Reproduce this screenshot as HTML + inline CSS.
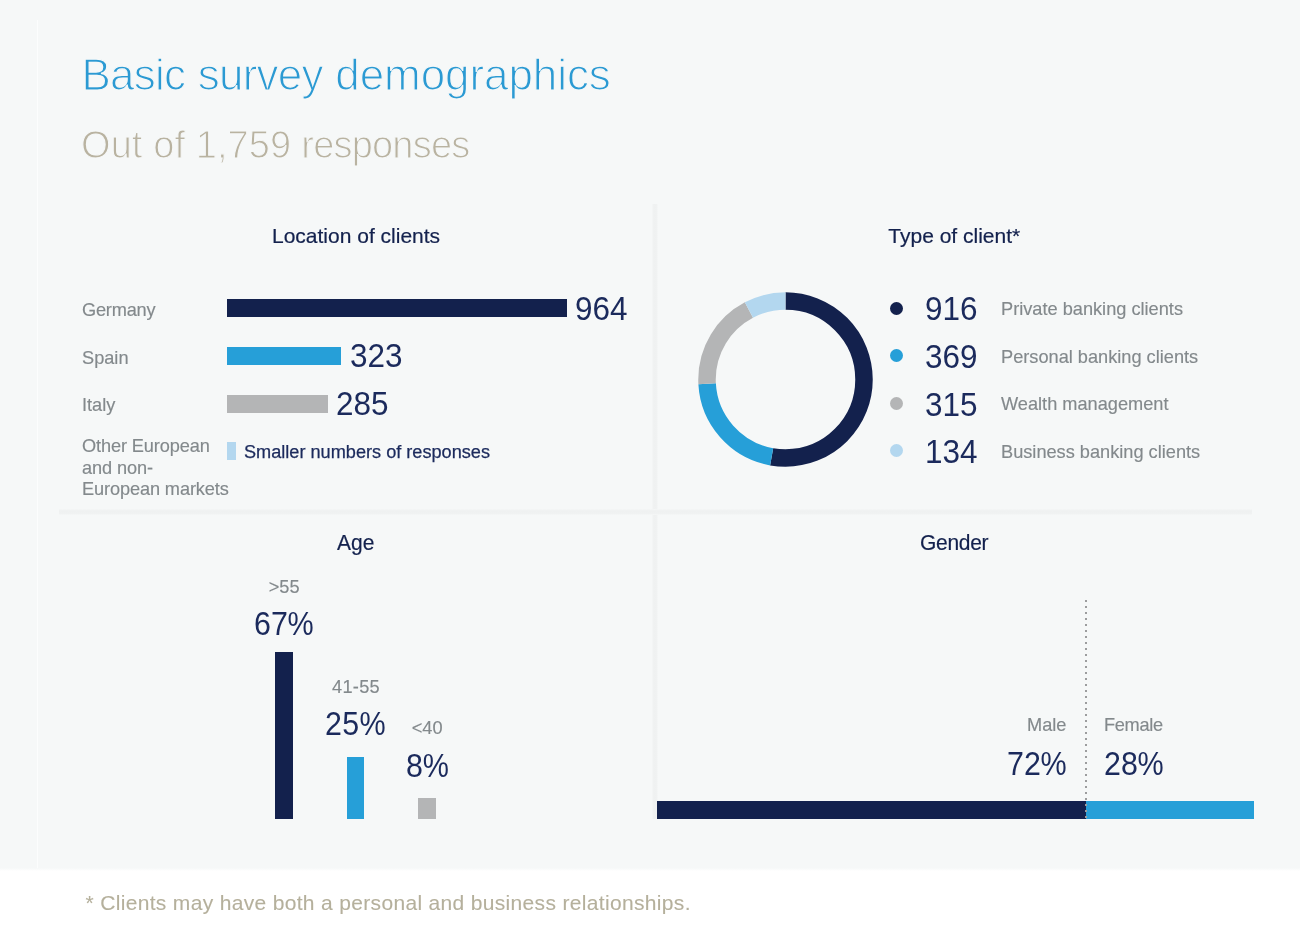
<!DOCTYPE html>
<html lang="en">
<head>
<meta charset="utf-8">
<title>Basic survey demographics</title>
<style>
*{box-sizing:border-box;margin:0;padding:0}
html,body{width:1300px;height:950px;overflow:hidden;background:#fff}
body{font-family:"Liberation Sans",sans-serif;position:relative;color:#13214d}
.abs{position:absolute;white-space:nowrap;line-height:1}
#bg{position:absolute;left:0;top:0;width:1300px;height:871px;background:linear-gradient(to bottom,#f6f8f8 0,#f6f8f8 868px,#fff 871px)}
#vl0{position:absolute;left:37px;top:20px;width:1px;height:848px;background:#fcfdfd}
#vline{position:absolute;left:652px;top:204px;width:6px;height:615px;background:linear-gradient(to right,#f5f7f7 0,#f0f2f2 1.5px,#eff1f1 3px,#f0f2f2 4.5px,#f5f7f7 6px)}
#hline{position:absolute;left:59px;top:509px;width:1193px;height:6px;background:linear-gradient(to bottom,#f5f7f7 0,#f0f2f2 1.5px,#eff1f1 3px,#f0f2f2 4.5px,#f5f7f7 6px)}
#title{left:81.5px;top:52.5px;font-size:44px;color:#2b9ad3;letter-spacing:-0.36px;-webkit-text-stroke:1.25px #f6f8f8}
#sub{left:81px;top:126px;font-size:38px;color:#b9b3a1;letter-spacing:-0.33px;-webkit-text-stroke:1.1px #f6f8f8}
.h{font-size:21px;color:#13214d;-webkit-text-stroke:.2px #13214d}
.lab{font-size:18.2px;color:#83898c;-webkit-text-stroke:.15px #83898c}
.num{font-size:32.7px;color:#1b2a5c;transform:scaleX(.963);transform-origin:0 50%}
.pn{transform:scaleX(.93);transform-origin:0 50%}
.pc{display:inline-block;transform:scaleX(.967);transform-origin:0 50%}
.bar{position:absolute}
.navy{background:#13214d}.blue{background:#269fd8}.gray{background:#b4b5b6}.lblue{background:#b3d7ef}
.dot{position:absolute;width:13px;height:13px;border-radius:50%;left:890px}
#foot{left:85.5px;top:891.5px;font-size:21px;color:#b5b09c;letter-spacing:.33px;-webkit-text-stroke:.1px #b5b09c}
</style>
</head>
<body>
<div id="bg"></div>
<div id="vl0"></div>
<div id="vline"></div>
<div id="hline"></div>

<div id="title" class="abs"><span style="letter-spacing:-.77px;word-spacing:1.1px">Basic survey </span><span style="letter-spacing:-.08px">demographics</span></div>
<div id="sub" class="abs"><span style="letter-spacing:.09px">Out of 1,759 </span><span style="letter-spacing:-.8px;margin-left:-.6px">responses</span></div>

<!-- Location of clients -->
<div class="abs h" style="left:272px;top:224.5px">Location of clients</div>
<div class="abs lab" style="left:82px;top:300.5px;letter-spacing:-.2px">Germany</div>
<div class="abs lab" style="left:82px;top:348.5px">Spain</div>
<div class="abs lab" style="left:82px;top:395.5px">Italy</div>
<div class="abs lab" style="left:82px;top:436.5px;line-height:21.4px;letter-spacing:-.12px"><span style="position:relative;top:-.9px">Other European</span><br>and non-<br>European markets</div>
<div class="bar navy" style="left:227px;top:299px;width:340px;height:18px"></div>
<div class="bar blue" style="left:227px;top:347px;width:114px;height:18px"></div>
<div class="bar gray" style="left:227px;top:395px;width:101px;height:18px"></div>
<div class="bar lblue" style="left:227px;top:442px;width:9px;height:18px"></div>
<div class="abs num" style="left:575px;top:293px">964</div>
<div class="abs num" style="left:349.7px;top:340px">323</div>
<div class="abs num" style="left:336px;top:388px">285</div>
<div class="abs" style="left:244px;top:442.6px;font-size:18.15px;color:#1b2a5c;-webkit-text-stroke:.25px #1b2a5c">Smaller numbers of responses</div>

<!-- Type of client -->
<div class="abs h" style="left:888.3px;top:224.5px">Type of client*</div>
<svg class="abs" style="left:695px;top:289px" width="181" height="181" viewBox="-90.5 -90.5 181 181">
 <g fill="none" stroke-width="17.5" transform="rotate(-90)">
  <circle r="78.5" stroke="#13214d" pathLength="1734" stroke-dasharray="916 818" stroke-dashoffset="0"/>
  <circle r="78.5" stroke="#269fd8" pathLength="1734" stroke-dasharray="369 1365" stroke-dashoffset="-916"/>
  <circle r="78.5" stroke="#b4b5b6" pathLength="1734" stroke-dasharray="315 1419" stroke-dashoffset="-1285"/>
  <circle r="78.5" stroke="#b3d7ef" pathLength="1734" stroke-dasharray="134 1600" stroke-dashoffset="-1600"/>
 </g>
</svg>
<div class="dot navy" style="top:302px"></div>
<div class="dot blue" style="top:349.1px"></div>
<div class="dot gray" style="top:397px"></div>
<div class="dot lblue" style="top:444.2px"></div>
<div class="abs num" style="left:924.8px;top:293.3px">916</div>
<div class="abs num" style="left:924.8px;top:340.5px">369</div>
<div class="abs num" style="left:924.8px;top:388.5px">315</div>
<div class="abs num" style="left:924.8px;top:435.7px">134</div>
<div class="abs lab" style="left:1001px;top:299.5px">Private banking clients</div>
<div class="abs lab" style="left:1001px;top:347.5px">Personal banking clients</div>
<div class="abs lab" style="left:1001px;top:394.5px">Wealth management</div>
<div class="abs lab" style="left:1001px;top:442.5px">Business banking clients</div>

<!-- Age -->
<div class="abs h" style="left:337px;top:531.5px;transform:scaleY(1.04);transform-origin:50% 85%">Age</div>
<div class="abs lab" style="left:268.7px;top:578px">&gt;55</div>
<div class="abs num pn" style="left:253.8px;top:608px">67<span class="pc">%</span></div>
<div class="bar navy" style="left:275px;top:652px;width:18px;height:167px"></div>
<div class="abs lab" style="left:332px;top:678px;letter-spacing:.3px">41-55</div>
<div class="abs num pn" style="left:325.2px;top:707.5px;letter-spacing:.5px">25<span class="pc">%</span></div>
<div class="bar blue" style="left:347px;top:757px;width:17px;height:62px"></div>
<div class="abs lab" style="left:411.7px;top:719px">&lt;40</div>
<div class="abs num pn" style="left:405.8px;top:749.5px">8<span class="pc">%</span></div>
<div class="bar gray" style="left:418px;top:798px;width:18px;height:21px"></div>

<!-- Gender -->
<div class="abs h" style="left:920px;top:531.5px;letter-spacing:-.3px;transform:scaleY(1.03);transform-origin:50% 85%">Gender</div>
<div class="abs lab" style="left:1027px;top:715.5px">Male</div>
<div class="abs lab" style="left:1104px;top:715.5px;letter-spacing:-.3px">Female</div>
<div class="abs num pn" style="left:1006.8px;top:748px">72<span class="pc">%</span></div>
<div class="abs num pn" style="left:1103.8px;top:748px">28<span class="pc">%</span></div>
<div class="bar navy" style="left:657px;top:801px;width:429px;height:18px"></div>
<div class="bar blue" style="left:1086px;top:801px;width:168px;height:18px"></div>
<div class="bar" style="left:1085px;top:600px;width:2px;height:219px;background:repeating-linear-gradient(to bottom,#9c9d9e 0,#9c9d9e 2px,transparent 2px,transparent 6px)"></div>

<div id="foot" class="abs">* Clients may have both a personal and business relationships.</div>
</body>
</html>
